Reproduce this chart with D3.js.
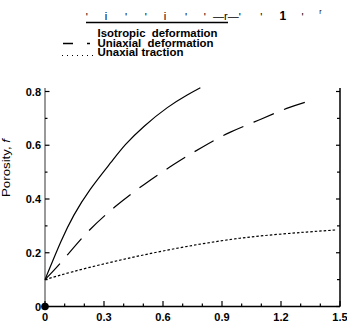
<!DOCTYPE html>
<html lang='en'>
	<head>
		<title>Porosity chart</title>
		<script type='text/javascript' src='https://cdn.jsdelivr.net/npm/d3@7'></script>
		<style>
			body { margin: 0; background: #fff; }
			text { font-family: 'Liberation Sans', Arial, sans-serif; fill: #000; }
		</style>
	</head>
	<body>
		<script type='text/javascript'>
		var xTicks = [0, 0.3, 0.6, 0.9, 1.2, 1.5];
		var yTicks = [0, 0.2, 0.4, 0.6, 0.8];

		var isoX = [0, 0.08, 0.147, 0.23, 0.334, 0.41, 0.503, 0.622, 0.723, 0.79];
		var isoF = [0.1, 0.24, 0.34, 0.436, 0.535, 0.603, 0.67, 0.74, 0.787, 0.814];

		var uniX = [0, 0.085, 0.21, 0.356, 0.508, 0.652, 0.797, 0.94, 1.085, 1.229, 1.373];
		var uniF = [0.1, 0.167, 0.272, 0.371, 0.456, 0.527, 0.592, 0.648, 0.693, 0.737, 0.771];

		var trX = [0, 0.144, 0.314, 0.483, 0.652, 0.822, 0.991, 1.161, 1.33, 1.483];
		var trF = [0.1, 0.13, 0.161, 0.189, 0.214, 0.236, 0.254, 0.267, 0.277, 0.285];

		var legendNames = ['Isotropic  deformation', 'Uniaxial  deformation', 'Unaxial traction'];
		var legendWidths = [120, 116, 86];
		// stray marks along the top of the figure
		var topMarks = [[0.213, "'"], [0.31, 'i'], [0.412, "'"], [0.513, "'"], [0.61, 'i'], [0.717, "'"], [0.813, "'"],
			[0.92, '\u2014r\u2014'], [0.99, "'"], [1.10, "'"], [1.21, '1'], [1.31, "'"]];

		var width = 347, height = 329;
		var svg = d3.select('body').append('svg').attr('width', width).attr('height', height);

		var x = d3.scaleLinear().domain([0, 1.5]).range([45, 340]);
		var y = d3.scaleLinear().domain([0, 0.8]).range([306.5, 91.5]);

		// frame
		svg.append('line').attr('x1', x(0)).attr('x2', x(0)).attr('y1', 88).attr('y2', y(0))
			.attr('stroke', '#555').attr('stroke-width', 1.2);
		svg.append('line').attr('x1', x(1.5)).attr('x2', x(1.5)).attr('y1', 88).attr('y2', y(0))
			.attr('stroke', '#000').attr('stroke-width', 1.5);
		svg.append('line').attr('x1', x(0)).attr('x2', x(1.5)).attr('y1', y(0)).attr('y2', y(0))
			.attr('stroke', '#000').attr('stroke-width', 1.5);

		var yMinor = d3.range(0, 0.81, 0.1);
		var xMinor = d3.range(0, 1.51, 0.1);
		svg.selectAll('.ytl').data(yMinor).enter().append('line')
			.attr('x1', x(0)).attr('x2', (d, i) => x(0) + (i % 2 ? 2.5 : 4.5))
			.attr('y1', d => y(d)).attr('y2', d => y(d)).attr('stroke', '#000').attr('stroke-width', 1.2);
		svg.selectAll('.ytr').data(yMinor).enter().append('line')
			.attr('x1', x(1.5)).attr('x2', (d, i) => x(1.5) - (i % 2 ? 3 : 4))
			.attr('y1', d => y(d)).attr('y2', d => y(d)).attr('stroke', '#000').attr('stroke-width', 1.2);
		svg.selectAll('.xt').data(xMinor).enter().append('line')
			.attr('x1', d => x(d)).attr('x2', d => x(d))
			.attr('y1', y(0)).attr('y2', (d, i) => y(0) - (i % 3 ? 3 : 5.5)).attr('stroke', '#000').attr('stroke-width', 1.2);

		svg.selectAll('.yl').data(yTicks).enter().append('text')
			.attr('x', x(0) - 4).attr('y', d => y(d) + 4).attr('text-anchor', 'end')
			.attr('font-size', 11).attr('font-weight', 'bold').text(d => d3.format('')(d));
		svg.selectAll('.xl').data(xTicks).enter().append('text')
			.attr('x', d => x(d)).attr('y', 321).attr('text-anchor', 'middle')
			.attr('font-size', 11).attr('font-weight', 'bold').text(d => d3.format('')(d));

		var yt = svg.append('text').attr('transform', 'translate(10,168) rotate(-90)')
			.attr('text-anchor', 'middle').attr('font-size', 10.5)
			.attr('textLength', 58).attr('lengthAdjust', 'spacingAndGlyphs');
		yt.append('tspan').text('Porosity, ');
		yt.append('tspan').attr('font-style', 'italic').text('f');

		// curves
		function draw(xs, fs, dash) {
			var pts = xs.map((v, i) => [v, fs[i]]);
			svg.append('path').datum(pts)
				.attr('d', d3.line().x(d => x(d[0])).y(d => y(d[1])).curve(d3.curveNatural))
				.attr('fill', 'none').attr('stroke', '#000').attr('stroke-width', 1.2)
				.attr('stroke-dasharray', dash);
		}
		draw(isoX, isoF, null);
		draw(uniX, uniF, '22,11');
		draw(trX, trF, '2.5,2');

		svg.append('circle').attr('cx', x(0)).attr('cy', y(0)).attr('r', 3.8).attr('fill', '#000');

		// legend block
		svg.append('line').attr('x1', 86).attr('x2', 228).attr('y1', 22.5).attr('y2', 22.5)
			.attr('stroke', '#000').attr('stroke-width', 1.3);
		svg.selectAll('.tm').data(topMarks).enter().append('text')
			.attr('x', d => x(d[0])).attr('y', d => d[1] == "'" ? 21 : 20).attr('text-anchor', 'middle')
			.attr('font-size', d => d[1] == '1' ? 12 : 11).attr('font-weight', d => d[1] == '1' ? 'bold' : 'normal')
			.text(d => d[1]);
		svg.append('text').attr('x', x(1.40)).attr('y', 14).attr('text-anchor', 'middle').attr('font-size', 7).text('r');

		svg.selectAll('.lg').data(legendNames).enter().append('text')
			.attr('x', 97.5).attr('y', (d, i) => 37 + i * 9.5)
			.attr('font-size', 10.5).attr('font-weight', 'bold')
			.attr('textLength', (d, i) => legendWidths[i]).attr('lengthAdjust', 'spacingAndGlyphs')
			.attr('xml:space', 'preserve').style('white-space', 'pre').text(d => d);
		svg.append('line').attr('x1', 63).attr('x2', 90).attr('y1', 43.5).attr('y2', 43.5)
			.attr('stroke', '#000').attr('stroke-width', 1.3).attr('stroke-dasharray', '10,14');
		svg.append('line').attr('x1', 62).attr('x2', 96).attr('y1', 55.5).attr('y2', 55.5)
			.attr('stroke', '#000').attr('stroke-width', 1).attr('stroke-dasharray', '1,4');
		</script>
	</body>
</html>
